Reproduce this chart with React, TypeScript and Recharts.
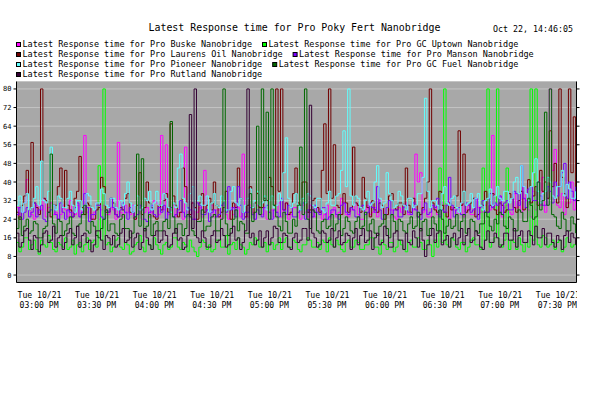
import React from "react";
import { CartesianGrid, Line, LineChart, XAxis, YAxis } from "recharts";

// one sample every 1.25 minutes starting at 03:00 PM
const SAMPLE_MINUTES = 1.25;

const buske = [
  29, 25, 27, 31, 41, 28, 26, 24, 30, 27, 28, 33, 25, 29, 31, 26, 27, 24, 26, 30,
  28, 25, 32, 27, 26, 30, 25, 28, 60, 27, 29, 24, 27, 31, 24, 28, 30, 26, 26, 29,
  28, 24, 57, 27, 25, 30, 27, 26, 30, 24, 26, 29, 24, 27, 29, 25, 27, 32, 31, 26,
  60, 28, 56, 26, 28, 30, 25, 27, 27, 24, 55, 29, 26, 31, 24, 27, 29, 25, 45, 28,
  27, 30, 25, 28, 28, 24, 30, 26, 24, 29, 26, 31, 29, 25, 52, 27, 25, 30, 27, 24,
  30, 26, 26, 29, 24, 27, 28, 25, 27, 31, 25, 28, 31, 24, 26, 29, 29, 27, 24, 30,
  27, 25, 30, 28, 25, 29, 28, 24, 26, 30, 24, 27, 29, 25, 27, 33, 31, 26, 25, 28,
  28, 31, 26, 24, 24, 28, 30, 26, 27, 29, 25, 32, 29, 26, 26, 28, 28, 25, 24, 29,
  27, 30, 31, 26, 26, 28, 52, 40, 44, 27, 28, 25, 25, 30, 29, 26, 26, 31, 30, 27,
  24, 29, 28, 26, 27, 31, 25, 28, 30, 26, 26, 33, 29, 27, 27, 30, 31, 28, 60, 30,
  28, 34, 25, 29, 30, 27, 26, 35, 29, 31, 27, 38, 32, 28, 25, 36, 28, 31, 30, 42,
  27, 33, 80, 45, 54, 30, 29, 35, 26, 31, 31, 40, 28, 33,
];

const gcUptown = [
  14, 10, 12, 16, 16, 11, 13, 15, 11, 9, 15, 13, 12, 17, 14, 11, 10, 14, 13, 12,
  16, 11, 12, 15, 9, 13, 14, 10, 13, 16, 11, 14, 15, 12, 47, 15, 80, 13, 14, 10,
  12, 15, 16, 12, 11, 14, 13, 9, 10, 13, 14, 17, 12, 10, 15, 13, 11, 16, 13, 11,
  9, 13, 14, 11, 12, 16, 16, 12, 11, 14, 13, 10, 15, 12, 10, 8, 12, 15, 14, 11,
  13, 10, 11, 15, 15, 12, 12, 17, 9, 13, 14, 11, 16, 13, 12, 9, 11, 14, 13, 16,
  15, 12, 12, 14, 10, 13, 14, 11, 13, 16, 11, 14, 16, 12, 12, 15, 14, 11, 10, 13,
  13, 16, 15, 12, 12, 14, 11, 15, 14, 10, 16, 13, 12, 15, 13, 11, 10, 14, 15, 12,
  12, 15, 14, 11, 11, 13, 13, 16, 16, 12, 12, 9, 15, 13, 11, 14, 14, 10, 12, 15,
  13, 11, 10, 14, 15, 12, 12, 16, 14, 11, 11, 15, 13, 8, 15, 12, 46, 14, 80, 13,
  12, 16, 15, 12, 11, 14, 14, 10, 12, 15, 16, 13, 13, 11, 46, 15, 80, 12, 14, 16,
  80, 13, 12, 15, 46, 11, 15, 14, 11, 16, 13, 10, 14, 12, 80, 15, 80, 13, 12, 17,
  16, 12, 13, 15, 11, 14, 15, 10, 12, 16, 14, 12, 13, 15,
];

const laurensOil = [
  27, 24, 30, 34, 45, 28, 57, 31, 29, 26, 80, 33, 32, 27, 25, 30, 30, 38, 46, 29,
  45, 30, 28, 25, 33, 36, 51, 29, 26, 31, 30, 24, 24, 28, 29, 42, 38, 27, 27, 33,
  31, 26, 25, 29, 28, 33, 35, 27, 27, 24, 30, 44, 26, 29, 40, 31, 29, 25, 24, 30,
  28, 32, 35, 27, 65, 34, 30, 25, 27, 46, 38, 29, 26, 31, 29, 24, 31, 35, 27, 30,
  33, 28, 40, 30, 25, 27, 29, 36, 28, 24, 31, 29, 46, 33, 27, 25, 30, 38, 26, 31,
  35, 29, 29, 33, 32, 42, 38, 30, 80, 36, 80, 28, 31, 26, 27, 35, 46, 31, 30, 40,
  40, 27, 28, 32, 33, 29, 27, 45, 65, 35, 80, 33, 56, 30, 29, 26, 35, 31, 27, 29,
  55, 31, 30, 27, 42, 33, 29, 25, 32, 28, 27, 31, 30, 24, 26, 34, 35, 29, 28, 31,
  31, 26, 46, 30, 27, 33, 30, 25, 26, 29, 33, 40, 80, 31, 28, 27, 36, 30, 27, 25,
  31, 28, 29, 34, 62, 30, 52, 27, 28, 31, 33, 25, 26, 29, 30, 36, 27, 30, 35, 28,
  26, 31, 30, 27, 28, 35, 33, 29, 27, 32, 36, 28, 29, 41, 31, 34, 38, 30, 45, 36,
  40, 33, 62, 38, 48, 31, 80, 42, 35, 29, 80, 44, 68, 36,
];

const manson = [
  26, 29, 24, 27, 29, 25, 27, 31, 25, 28, 30, 24, 23, 27, 28, 30, 26, 24, 31, 27,
  24, 28, 27, 25, 29, 31, 25, 27, 35, 29, 23, 26, 26, 30, 30, 25, 24, 28, 27, 33,
  29, 26, 25, 28, 31, 27, 24, 29, 27, 25, 26, 30, 28, 24, 23, 27, 30, 26, 25, 29,
  27, 30, 24, 27, 29, 25, 26, 28, 32, 27, 25, 29, 28, 24, 24, 31, 30, 26, 26, 28,
  23, 27, 28, 25, 26, 30, 31, 27, 38, 28, 29, 25, 38, 30, 24, 27, 27, 29, 26, 24,
  28, 26, 25, 29, 30, 27, 24, 28, 27, 25, 33, 28, 26, 30, 29, 25, 25, 27, 28, 31,
  24, 28, 27, 25, 30, 27, 26, 29, 29, 24, 25, 28, 28, 26, 24, 30, 31, 27, 26, 29,
  28, 25, 25, 29, 30, 26, 27, 31, 29, 27, 38, 28, 24, 26, 29, 32, 26, 28, 28, 25,
  25, 29, 30, 27, 26, 31, 28, 25, 24, 28, 31, 26, 27, 30, 29, 33, 25, 28, 27, 30,
  42, 30, 25, 28, 29, 26, 26, 31, 30, 27, 28, 33, 24, 29, 32, 27, 27, 35, 29, 31,
  30, 34, 26, 31, 32, 28, 28, 36, 35, 30, 47, 33, 29, 37, 38, 32, 32, 40, 34, 30,
  30, 38, 36, 31, 40, 34, 38, 44, 48, 33, 40, 36, 32, 38,
];

const pioneer = [
  30, 34, 27, 31, 35, 28, 29, 33, 38, 30, 49, 32, 31, 36, 55, 30, 28, 34, 33, 29,
  29, 33, 36, 30, 27, 32, 32, 28, 30, 35, 34, 29, 28, 31, 31, 37, 35, 30, 29, 33,
  33, 29, 28, 32, 30, 35, 40, 31, 27, 30, 34, 28, 29, 33, 32, 36, 28, 31, 36, 30,
  30, 35, 33, 29, 27, 31, 29, 46, 52, 33, 31, 28, 35, 38, 28, 32, 34, 30, 30, 34,
  27, 31, 35, 30, 29, 34, 32, 28, 28, 36, 38, 31, 30, 33, 27, 30, 33, 37, 29, 32,
  36, 30, 31, 34, 28, 32, 34, 29, 30, 35, 32, 44, 59, 33, 29, 31, 35, 30, 28, 33,
  31, 35, 34, 30, 29, 33, 33, 28, 27, 31, 36, 30, 30, 34, 35, 45, 62, 38, 80, 34,
  30, 34, 33, 29, 28, 32, 36, 30, 31, 40, 47, 33, 29, 31, 44, 35, 32, 29, 30, 36,
  34, 30, 28, 33, 33, 29, 30, 35, 35, 42, 76, 36, 29, 32, 32, 30, 28, 35, 38, 31,
  30, 33, 34, 29, 27, 31, 36, 30, 31, 35, 29, 33, 35, 30, 28, 32, 33, 37, 30, 34,
  38, 33, 32, 36, 36, 31, 33, 40, 42, 35, 47, 38, 35, 32, 38, 44, 50, 36, 31, 35,
  36, 42, 40, 34, 33, 38, 38, 45, 34, 39, 37, 33, 33, 36,
];

const gcFuel = [
  20, 25, 17, 21, 24, 18, 19, 23, 22, 16, 16, 20, 21, 27, 52, 22, 18, 24, 23, 17,
  19, 22, 25, 18, 17, 21, 22, 26, 30, 19, 18, 23, 21, 17, 16, 20, 24, 28, 19, 22,
  22, 18, 17, 24, 26, 20, 20, 16, 18, 25, 52, 21, 50, 19, 21, 26, 17, 22, 23, 19,
  19, 23, 24, 20, 66, 25, 18, 22, 22, 17, 20, 26, 25, 19, 17, 23, 23, 28, 19, 21,
  21, 25, 26, 19, 19, 24, 80, 22, 17, 20, 24, 28, 19, 23, 22, 18, 18, 35, 23, 27,
  64, 26, 80, 32, 70, 24, 80, 30, 25, 21, 19, 27, 23, 18, 18, 24, 21, 30, 55, 26,
  80, 24, 20, 28, 27, 19, 18, 23, 24, 20, 21, 26, 19, 22, 26, 17, 20, 25, 23, 19,
  18, 23, 25, 20, 21, 27, 19, 22, 24, 18, 17, 21, 22, 26, 20, 16, 26, 23, 19, 24,
  23, 19, 18, 22, 25, 20, 21, 27, 19, 23, 24, 17, 20, 25, 22, 19, 28, 24, 18, 21,
  24, 20, 21, 26, 19, 23, 26, 18, 20, 24, 23, 19, 18, 22, 22, 27, 25, 21, 19, 24,
  22, 27, 26, 21, 20, 25, 24, 19, 19, 28, 27, 23, 23, 33, 30, 24, 25, 40, 28, 32,
  70, 30, 80, 26, 25, 21, 20, 27, 24, 19, 19, 25, 22, 18,
];

const rutland = [
  18, 12, 14, 19, 20, 15, 11, 17, 16, 10, 13, 18, 19, 14, 15, 21, 12, 16, 17, 11,
  14, 18, 20, 13, 16, 21, 12, 17, 18, 14, 15, 10, 13, 19, 19, 15, 11, 17, 16, 13,
  17, 12, 13, 18, 20, 14, 15, 19, 12, 16, 18, 11, 14, 20, 16, 13, 11, 17, 19, 14,
  15, 19, 17, 12, 13, 18, 20, 15, 16, 11, 12, 17, 69, 20, 80, 16, 14, 19, 16, 12,
  12, 17, 19, 14, 15, 20, 17, 12, 13, 18, 21, 15, 16, 11, 14, 19, 80, 16, 18, 13,
  15, 19, 12, 16, 19, 13, 16, 21, 20, 14, 14, 18, 17, 12, 11, 16, 18, 14, 15, 20,
  20, 15, 73, 18, 16, 12, 13, 19, 18, 14, 15, 20, 12, 16, 19, 13, 14, 18, 17, 11,
  16, 20, 13, 17, 20, 14, 15, 19, 11, 16, 18, 13, 14, 21, 17, 12, 12, 18, 19, 15,
  15, 11, 18, 14, 13, 19, 16, 12, 20, 15, 8, 13, 17, 20, 14, 18, 19, 13, 15, 17,
  12, 16, 18, 13, 16, 20, 13, 17, 20, 14, 15, 19, 17, 12, 11, 15, 19, 14, 14, 18,
  16, 12, 13, 18, 18, 15, 15, 20, 12, 17, 19, 14, 14, 19, 17, 13, 21, 16, 16, 20,
  13, 18, 18, 14, 12, 17, 15, 11, 17, 19, 14, 18, 16, 13,
];

const SERIES = [
  { key: "buske", name: "Latest Response time for Pro Buske Nanobridge", color: "#FF00FF", values: buske },
  { key: "gcUptown", name: "Latest Response time for Pro GC Uptown Nanobridge", color: "#00FF00", values: gcUptown },
  { key: "laurensOil", name: "Latest Response time for Pro Laurens Oil Nanobridge", color: "#700000", values: laurensOil },
  { key: "manson", name: "Latest Response time for Pro Manson Nanobridge", color: "#7B00FF", values: manson },
  { key: "pioneer", name: "Latest Response time for Pro Pioneer Nanobridge", color: "#60FFFF", values: pioneer },
  { key: "gcFuel", name: "Latest Response time for Pro GC Fuel Nanobridge", color: "#006800", values: gcFuel },
  { key: "rutland", name: "Latest Response time for Pro Rutland Nanobridge", color: "#330033", values: rutland },
];

const LEGEND_ROWS = [[0, 1], [2, 3], [4, 5], [6]];

const Y_TICKS = [0, 8, 16, 24, 32, 40, 48, 56, 64, 72, 80];
const X_TICKS = [0, 30, 60, 90, 120, 150, 180, 210, 240, 270];
const X_TICK_DAY = "Tue 10/21";
const X_TICK_TIMES = [
  "03:00 PM", "03:30 PM", "04:00 PM", "04:30 PM", "05:00 PM",
  "05:30 PM", "06:00 PM", "06:30 PM", "07:00 PM", "07:30 PM",
];

const TITLE = "Latest Response time for Pro Poky Fert Nanobridge";
const STAMP = "Oct 22, 14:46:05";

const data = buske.map((_, i) => {
  const row: Record<string, number> = { t: i * SAMPLE_MINUTES };
  SERIES.forEach((s) => {
    row[s.key] = s.values[i];
  });
  return row;
});

const FONT = "'DejaVu Sans Mono', monospace";
const X_DOMAIN: [number, number] = [0, 291.7];
const Y_DOMAIN: [number, number] = [-3.2, 83.2];

function YTick(props: any) {
  const { x, y, payload } = props;
  return (
    <text x={x} y={y + 2.5} textAnchor="end" fontFamily={FONT} fontSize={7} fill="#000">
      {payload.value}
    </text>
  );
}

function NoTick() {
  return <g />;
}

function XTick(props: any) {
  const { x, y, payload } = props;
  const idx = X_TICKS.indexOf(payload.value);
  return (
    <g clipPath="url(#xlabelclip)">
      <text x={x + 1} y={y + 7} fontFamily={FONT} fontSize={8} fill="#000" textLength={44} lengthAdjust="spacingAndGlyphs">
        {X_TICK_DAY}
      </text>
      <text x={x + 3} y={y + 17} fontFamily={FONT} fontSize={8} fill="#000" textLength={39} lengthAdjust="spacingAndGlyphs">
        {X_TICK_TIMES[idx]}
      </text>
    </g>
  );
}

function Header() {
  const rows: React.ReactNode[] = [];
  LEGEND_ROWS.forEach((row, r) => {
    let x = 16;
    const top = 42 + r * 10;
    row.forEach((si) => {
      const s = SERIES[si];
      const w = s.name.length * 5.1;
      rows.push(
        <g key={s.key}>
          <rect x={x + 0.5} y={top + 0.5} width={4} height={4} fill={s.color} stroke="#000" strokeWidth={1} />
          <text x={x + 6.5} y={top + 4.8} fontFamily={FONT} fontSize={8} fill="#000" textLength={w} lengthAdjust="spacingAndGlyphs">
            {s.name}
          </text>
        </g>
      );
      x = x + 6.5 + w + 10;
    });
  });
  return (
    <svg width={616} height={82} style={{ position: "absolute", left: 0, top: 0, pointerEvents: "none" }}>
      <text x={148.5} y={31} fontFamily={FONT} fontSize={10} fill="#000" textLength={292} lengthAdjust="spacingAndGlyphs">
        {TITLE}
      </text>
      <text x={493} y={32} fontFamily={FONT} fontSize={8} fill="#000" textLength={80} lengthAdjust="spacingAndGlyphs">
        {STAMP}
      </text>
      {rows}
    </svg>
  );
}

export default function App() {
  return (
    <div style={{ position: "absolute", left: 0, top: 0, width: 616, height: 393, background: "#fff" }}>
      <LineChart width={616} height={393} data={data} margin={{ top: 81.5, right: 0, bottom: 0, left: 0 }}>
        <defs>
          <clipPath id="xlabelclip">
            <rect x={0} y={0} width={577} height={393} />
          </clipPath>
        </defs>
        <CartesianGrid vertical={false} fill="#A8A8A8" stroke="#C4C4C4" strokeWidth={1} />
        <XAxis
          dataKey="t"
          type="number"
          domain={X_DOMAIN}
          ticks={X_TICKS}
          allowDataOverflow
          height={110.5}
          axisLine={{ stroke: "#000" }}
          tickLine={false}
          tick={<XTick />}
          interval={0}
        />
        <XAxis
          xAxisId="top"
          dataKey="t"
          type="number"
          orientation="top"
          domain={X_DOMAIN}
          allowDataOverflow
          height={0}
          axisLine={{ stroke: "#000" }}
          tickLine={false}
          tick={false}
        />
        <YAxis
          type="number"
          domain={Y_DOMAIN}
          ticks={Y_TICKS}
          allowDataOverflow
          width={16.5}
          axisLine={{ stroke: "#000" }}
          tickLine={{ stroke: "#000" }}
          tickSize={3}
          tickMargin={2}
          tick={<YTick />}
          interval={0}
        />
        <YAxis
          yAxisId="right"
          orientation="right"
          type="number"
          domain={Y_DOMAIN}
          ticks={Y_TICKS}
          allowDataOverflow
          width={39.5}
          axisLine={{ stroke: "#000" }}
          tickLine={{ stroke: "#000" }}
          tickSize={3}
          tick={<NoTick />}
          interval={0}
        />
        {SERIES.map((s) => (
          <Line
            key={s.key}
            dataKey={s.key}
            name={s.name}
            type="stepAfter"
            stroke={s.color}
            strokeWidth={1}
            dot={false}
            activeDot={false}
            isAnimationActive={false}
          />
        ))}
      </LineChart>
      <Header />
    </div>
  );
}
